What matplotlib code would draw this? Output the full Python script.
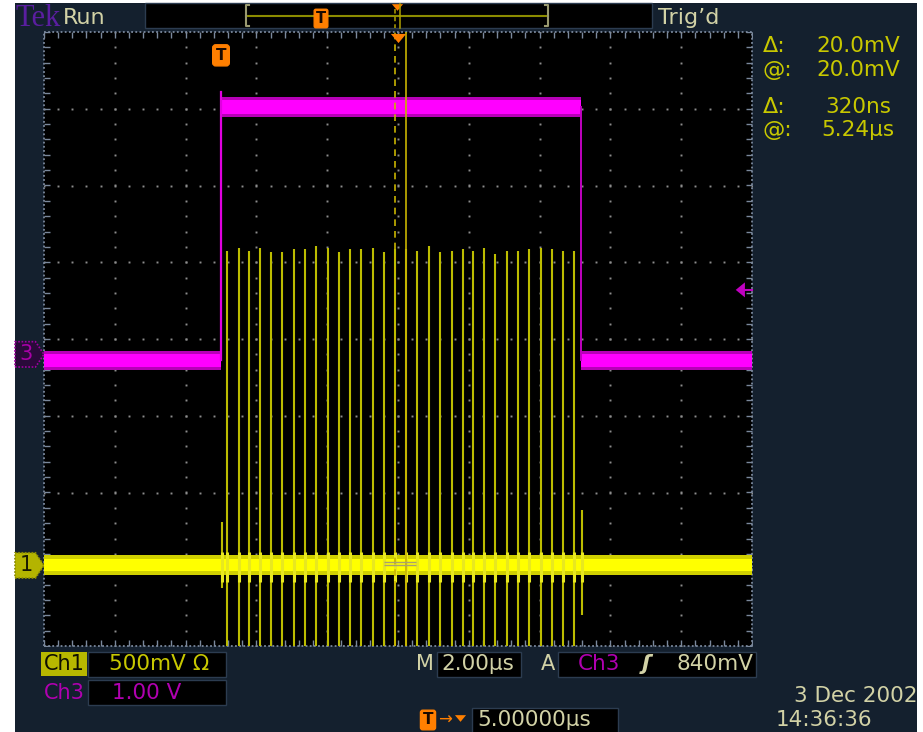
import matplotlib
matplotlib.use("Agg")
import matplotlib.pyplot as plt
from matplotlib.patches import Rectangle, Polygon
import numpy as np

# ---------------- data ----------------
time_window_us = [-5.0, 15.0]          # screen spans trigger-5us .. trigger+15us
time_per_div_us = 2.0
n_div_y = 8
ch1_volts_per_div = 0.5
ch3_volts_per_div = 1.0
ch1_position_div = -2.95
ch3_position_div = -0.2
ch1_baseline_v = 0.0
ch1_noise_v = 0.065
ch1_ring_v = [-0.11, 0.09]
ch3_noise_v = 0.13
ch3_low_v = -0.08
ch3_high_v = 3.22
ch3_overshoot_v = 3.42
ch3_edge_times_us = [0.0, 10.18]
trigger_level_v = 0.84
horizontal_position_us = 5.0
cursor_times_us = [4.92, 5.24]
hbar_cursor_v = [0.0, 0.02]
hbar_span_us = [4.61, 5.52]

spike_times_us = [0.02,
                  0.18, 0.50, 0.80, 1.11, 1.42, 1.73, 2.05, 2.37, 2.69, 3.02, 3.33,
                  3.65, 3.96, 4.29, 4.61, 4.92, 5.22, 5.55, 5.88, 6.19, 6.52, 6.83,
                  7.13, 7.44, 7.75, 8.07, 8.39, 8.71, 9.03, 9.35, 9.66, 9.97,
                  10.20]
spike_peak_v = [0.28,
                2.05, 2.07, 2.05, 2.07, 2.04, 2.04, 2.06, 2.06, 2.08, 2.07, 2.04,
                2.06, 2.06, 2.07, 2.04, 2.06, 2.06, 2.05, 2.08, 2.04, 2.05, 2.06,
                2.05, 2.07, 2.03, 2.05, 2.05, 2.06, 2.07, 2.06, 2.05, 2.05,
                0.36]
spike_trough_v = [-0.15,
                  -0.60, -0.60, -0.60, -0.60, -0.60, -0.60, -0.60, -0.60, -0.60, -0.60, -0.60,
                  -0.60, -0.60, -0.60, -0.60, -0.60, -0.60, -0.60, -0.60, -0.60, -0.60, -0.60,
                  -0.60, -0.60, -0.60, -0.60, -0.60, -0.60, -0.60, -0.60, -0.60, -0.60,
                  -0.32]

readout_rows = [("Δ:", "20.0mV"), ("@:", "20.0mV"), ("Δ:", "320ns"), ("@:", "5.24µs")]
ch1_label, ch1_scale_text = "Ch1", "500mV Ω"
ch3_label, ch3_scale_text = "Ch3", "1.00 V"
timebase_text = "2.00µs"
trigger_source, trigger_level_text = "Ch3", "840mV"
position_text = "5.00000µs"
date_text, time_text = "3 Dec 2002", "14:36:36"

# ---------------- styling ----------------
W, H = 923, 732
NAVY = '#14202e'
KHAKI = '#d2d2a6'
YEL = '#c8c800'
MAGT = '#b000b0'
ORANGE = '#ff7f00'
DOT = '#8c8c8c'
FR = '#7a889c'
FONT = 'DejaVu Sans'

fig = plt.figure(figsize=(W / 100, H / 100), dpi=100, facecolor='white')


def fa(l, t, r, b):
    return [l / W, 1 - b / H, (r - l) / W, (b - t) / H]


bg = fig.add_axes([0, 0, 1, 1], zorder=0)
bg.set_xlim(0, W); bg.set_ylim(H, 0); bg.axis('off')
bg.add_patch(Rectangle((15, 3), 902, 729, fc=NAVY, ec='none'))

ax = fig.add_axes(fa(44, 32, 752, 646), zorder=1)
t0, t1 = time_window_us
ax.set_xlim(t0, t1)
ax.set_ylim(-n_div_y / 2, n_div_y / 2)
ax.set_facecolor('black')
ax.set_xticks([]); ax.set_yticks([])
for s in ax.spines.values():
    s.set_visible(False)

# graticule
col_t = np.arange(t0, t1 + 1e-9, time_per_div_us)
sub_t = np.arange(t0, t1 + 1e-9, time_per_div_us / 5)
row_y = np.arange(-n_div_y / 2, n_div_y / 2 + 1e-9, 1.0)
sub_y = np.arange(-n_div_y / 2, n_div_y / 2 + 1e-9, 0.2)
for t in col_t[1:-1]:
    ax.plot(np.full(sub_y.size, t), sub_y, ls='none', marker='s', ms=1.4, mew=0, color=DOT)
for y in row_y[1:-1]:
    ax.plot(sub_t, np.full(sub_t.size, y), ls='none', marker='s', ms=1.4, mew=0, color=DOT)
ytop, ybot = n_div_y / 2, -n_div_y / 2
for xs, ys in [([t0, t1], [ytop, ytop]), ([t0, t1], [ybot, ybot]),
               ([t0, t0], [ybot, ytop]), ([t1, t1], [ybot, ytop])]:
    ax.plot(xs, ys, ls=(0, (1, 1.3)), lw=1.3, color=FR, clip_on=False)
ax.plot(sub_t, np.full(sub_t.size, ytop), ls='none', marker=3, ms=4, mew=1, color=FR)
ax.plot(sub_t, np.full(sub_t.size, ybot), ls='none', marker=2, ms=4, mew=1, color=FR)
ax.plot(np.full(sub_y.size, t0), sub_y, ls='none', marker=1, ms=4, mew=1, color=FR)
ax.plot(np.full(sub_y.size, t1), sub_y, ls='none', marker=0, ms=4, mew=1, color=FR)


def ch3_div(v):
    return ch3_position_div + np.asarray(v, dtype=float) / ch3_volts_per_div


def ch1_div(v):
    return ch1_position_div + np.asarray(v, dtype=float) / ch1_volts_per_div


# Ch3 (magenta) gate pulse
e0, e1 = ch3_edge_times_us
n3 = ch3_noise_v / ch3_volts_per_div
for (a, b), v in zip([(t0, e0), (e0, e1), (e1, t1)], [ch3_low_v, ch3_high_v, ch3_low_v]):
    c = float(ch3_div(v))
    ax.fill_between([a, b], c - n3, c + n3, color='#b800b8', lw=0, zorder=3)
    ax.fill_between([a, b], c - 0.7 * n3, c + 0.7 * n3, color='#ff00ff', lw=0, zorder=3)
ax.plot([e0, e0], [ch3_div(ch3_low_v), ch3_div(ch3_overshoot_v)], color='#e000e0', lw=1.6, zorder=3)
ax.plot([e1, e1], [ch3_div(ch3_low_v), ch3_div(ch3_high_v)], color='#c000c0', lw=1.4, zorder=3)

# Ch1 (yellow) burst
c1 = float(ch1_div(ch1_baseline_v))
n1 = ch1_noise_v / ch1_volts_per_div
ax.vlines(spike_times_us, ch1_div(spike_trough_v), ch1_div(spike_peak_v),
          color='#bcbc00', lw=1.5, zorder=4)
ax.fill_between([t0, t1], c1 - n1, c1 + n1, color='#d0d000', lw=0, zorder=5)
ax.fill_between([t0, t1], c1 - 0.6 * n1, c1 + 0.6 * n1, color='#ffff00', lw=0, zorder=5)
ring_lo = np.maximum(spike_trough_v, ch1_ring_v[0])
ring_hi = np.minimum(spike_peak_v, ch1_ring_v[1])
ax.vlines(spike_times_us, ch1_div(ring_lo), ch1_div(ring_hi), color='#e8e820', lw=2.2, zorder=6)

# cursors
ax.axvline(cursor_times_us[0], color='#c8b400', lw=1.2, ls=(0, (4, 3)), zorder=7)
ax.axvline(cursor_times_us[1], color='#c8b400', lw=1.2, zorder=7)
ax.hlines(ch1_div(hbar_cursor_v), hbar_span_us[0], hbar_span_us[1], color='#a8a070', lw=1, zorder=7)

# trigger "T" marker and expansion-point marker
xax = ax.get_xaxis_transform()
yax = ax.get_yaxis_transform()
ax.text(0.0, 0.962, 'T', transform=xax, ha='center', va='center', fontsize=11,
        fontweight='bold', color='#1a0a00', family=FONT, zorder=9,
        bbox=dict(boxstyle='round,pad=0.2', fc=ORANGE, ec=ORANGE))
tri = [(-1.0, 0.6), (1.0, 0.6), (0.0, -0.6)]
ax.plot([horizontal_position_us], [ytop - 0.08], marker=tri, ms=11, color=ORANGE,
        mew=0, clip_on=False, zorder=9)

# trigger level arrow (right edge)
ty = float(ch3_div(trigger_level_v))
ax.add_patch(Polygon([(0.977, ty), (0.990, ty + 0.098), (0.990, ty - 0.098)],
                     transform=yax, fc='#c000c0', ec='none', clip_on=False, zorder=9))
ax.plot([0.990, 1.0], [ty, ty], transform=yax, color='#c000c0', lw=1.5, clip_on=False, zorder=9)

# channel ground markers (left edge)
def ch_marker(y, fc, ec, tc, label):
    h = 0.165
    pts = [(-0.041, y - h), (-0.012, y - h), (0.0, y), (-0.012, y + h), (-0.041, y + h)]
    ax.add_patch(Polygon(pts, transform=yax, fc=fc, ec=ec, lw=1.2, ls=(0, (1, 1)),
                         clip_on=False, zorder=9))
    ax.text(-0.025, y, label, transform=yax, ha='center', va='center', fontsize=15,
            color=tc, family=FONT, clip_on=False, zorder=10)


ch_marker(ch3_position_div, '#2a0a3a', '#a000a0', '#a800a8', '3')
ch_marker(ch1_position_div, '#b4b400', '#8a8a00', '#1a1a00', '1')

# ---------------- overlay: top bar, readouts, bottom bar ----------------
ov = fig.add_axes([0, 0, 1, 1], zorder=3)
ov.set_xlim(0, W); ov.set_ylim(H, 0); ov.axis('off')
ov.patch.set_alpha(0)

ov.text(15, 26, 'Tek', family='Liberation Serif', fontsize=22, color='#5a1ea0', va='baseline')
ov.text(63, 24, 'Run', family=FONT, fontsize=16, color=KHAKI, va='baseline')
ov.add_patch(Rectangle((145, 3), 507, 25, fc='black', ec='#2c3c50', lw=1))
ov.text(658, 24, 'Trig’d', family=FONT, fontsize=16, color=KHAKI, va='baseline')

# record view
rec_scale = 15.1
rec_trig = 321


def rec_x(t):
    return rec_trig + t * rec_scale


rl, rr = rec_x(t0), rec_x(t1)
ov.plot([rl, rr], [15.5, 15.5], color='#8c8c00', lw=1.5)
ov.plot([rl + 3, rl, rl, rl + 3], [5, 5, 26, 26], color='#9a9a70', lw=1.5)
ov.plot([rr - 3, rr, rr, rr - 3], [5, 5, 26, 26], color='#9a9a70', lw=1.5)
ov.text(rec_x(0), 18.5, 'T', ha='center', va='center', fontsize=10.5, fontweight='bold',
        color='#1a0a00', family=FONT,
        bbox=dict(boxstyle='round,pad=0.12', fc=ORANGE, ec=ORANGE))
ov.plot([rec_x(horizontal_position_us)], [7], marker=tri, ms=8, color=ORANGE, mew=0)
ov.plot([rec_x(cursor_times_us[0])] * 2, [9, 28], color='#b0a000', lw=1.1, ls=(0, (3, 2)))
ov.plot([rec_x(cursor_times_us[1])] * 2, [4, 28], color='#b0a000', lw=1.1)

# right readouts
for (lab, val), yy in zip(readout_rows, [46, 70, 107, 130]):
    ov.text(763, yy, lab, family=FONT, fontsize=16, color=YEL, va='center', ha='left')
    ov.text(858, yy, val, family=FONT, fontsize=15.5, color=YEL, va='center', ha='center')

# bottom: channel scale boxes
ov.add_patch(Rectangle((41, 652), 46, 24, fc='#b8b800', ec='none'))
ov.text(64, 664, ch1_label, family=FONT, fontsize=15, color='#101000', ha='center', va='center')
ov.add_patch(Rectangle((88, 652), 138, 25, fc='black', ec='#2c3c50', lw=1))
ov.text(109, 664, ch1_scale_text, family=FONT, fontsize=15.5, color=YEL, ha='left', va='center')
ov.text(64, 693, ch3_label, family=FONT, fontsize=15, color=MAGT, ha='center', va='center')
ov.add_patch(Rectangle((88, 680), 138, 25, fc='black', ec='#2c3c50', lw=1))
ov.text(112, 693, ch3_scale_text, family=FONT, fontsize=15.5, color=MAGT, ha='left', va='center')

# timebase and trigger
ov.text(416, 664, 'M', family=FONT, fontsize=15, color=KHAKI, ha='left', va='center')
ov.add_patch(Rectangle((437, 652), 84, 25, fc='black', ec='#2c3c50', lw=1))
ov.text(441, 664, timebase_text, family=FONT, fontsize=15.5, color=KHAKI, ha='left', va='center')
ov.text(541, 664, 'A', family=FONT, fontsize=15, color=KHAKI, ha='left', va='center')
ov.add_patch(Rectangle((558, 652), 198, 25, fc='black', ec='#2c3c50', lw=1))
ov.text(578, 664, trigger_source, family=FONT, fontsize=15.5, color=MAGT, ha='left', va='center')
ov.text(646, 664, 'ʃ', family=FONT, fontsize=15.5, color=KHAKI, ha='center', va='center',
        fontweight='bold', style='italic')
ov.text(753, 664, trigger_level_text, family=FONT, fontsize=15.5, color=KHAKI, ha='right', va='center')

# horizontal position
ov.text(428, 720, 'T', ha='center', va='center', fontsize=11, fontweight='bold',
        color='#1a0a00', family=FONT,
        bbox=dict(boxstyle='round,pad=0.15', fc=ORANGE, ec=ORANGE))
ov.text(438, 720, '→', family=FONT, fontsize=12, color=ORANGE, ha='left', va='center')
ov.plot([460], [718], marker=tri, ms=8, color=ORANGE, mew=0)
ov.add_patch(Rectangle((472, 708), 146, 25, fc='black', ec='#2c3c50', lw=1))
ov.text(477, 720, position_text, family=FONT, fontsize=15.5, color=KHAKI, ha='left', va='center')

# date / time
ov.text(918, 696, date_text, family=FONT, fontsize=15.5, color=KHAKI, ha='right', va='center')
ov.text(776, 720, time_text, family=FONT, fontsize=15.5, color=KHAKI, ha='left', va='center')

fig.savefig('out.png', dpi=100, facecolor='white')
